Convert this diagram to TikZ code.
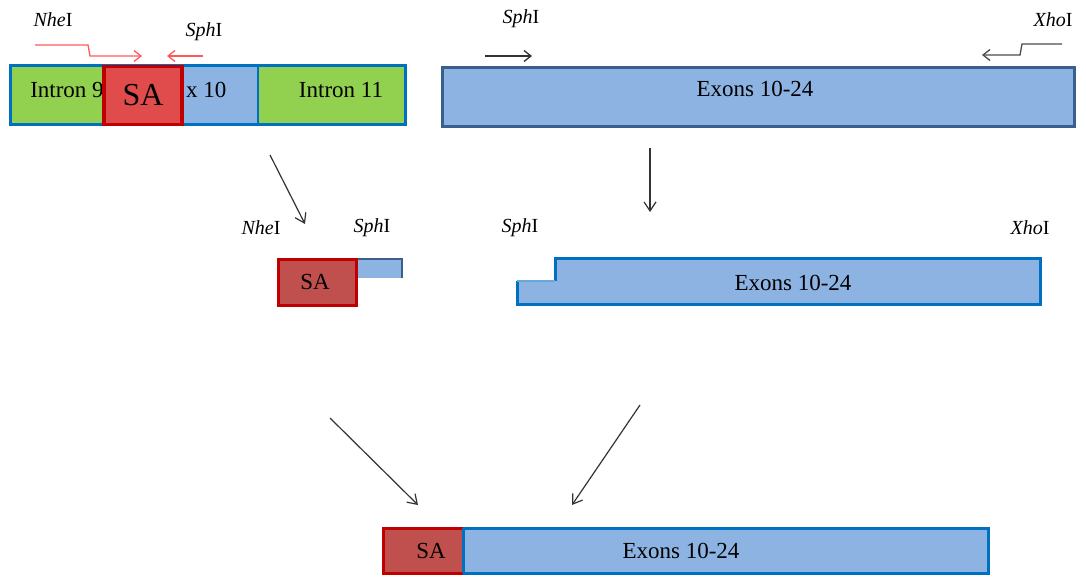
\documentclass[tikz,border=0pt]{standalone}
\usepackage{fontspec}
\setmainfont{Liberation Serif}
\usetikzlibrary{arrows.meta}
\definecolor{grn}{HTML}{92D050}
\definecolor{bfill}{HTML}{8DB3E2}
\definecolor{bedge}{HTML}{0070C0}
\definecolor{bdark}{HTML}{3A5F8F}
\definecolor{rfillA}{HTML}{E04C4C}
\definecolor{rfillB}{HTML}{C0504D}
\definecolor{redge}{HTML}{C00000}
\definecolor{pink}{HTML}{FF5A5A}
\tikzset{
  lbl/.style={font=\fontsize{20}{22}\selectfont, inner sep=0pt},
  txt/.style={font=\fontsize{23}{25}\selectfont, inner sep=0pt},
  flow/.style={-{Straight Barb[length=9pt,width=12pt]}, line width=1.2pt, black!80},
  primer/.style={-{Straight Barb[length=7pt,width=11pt]}, line width=1.3pt},
}
\begin{document}
\begin{tikzpicture}[x=1pt,y=-1pt]
\useasboundingbox (0,0) rectangle (1086,577);
% ---- top left construct
\fill[grn] (10,66) rectangle (183,125);
\fill[bfill] (183,66) rectangle (258,125);
\fill[grn] (258,66) rectangle (405,125);
\draw[bedge, line width=2pt] (258,66) -- (258,125);
\draw[bedge, line width=3pt] (10,66) rectangle (405,125);
\node[txt] (i9) at (67,90) {Intron 9};
\node[txt, anchor=west] (e10) at (186,90) {x 10};
\node[txt] (i11) at (341,90) {Intron 11};
\node[draw=redge, fill=rfillA, line width=3.5pt, minimum width=78pt, minimum height=58pt, inner sep=0pt, font=\fontsize{32}{34}\selectfont] (sa1) at (143,95.5) {SA};
% primers top left
\node[lbl] (nhe1) at (53,20) {\textit{Nhe}I};
\node[lbl] (sph1) at (204,32) {\textit{Sph}I};
\coordinate (p1s) at (35,45);
\coordinate (p1e) at (142,56);
\draw[primer, pink] (p1s) -- (88,45) -- (90,56) -- (p1e);
\coordinate (p2s) at (203,56);
\coordinate (p2e) at (167,56);
\draw[primer, pink] (p2s) -- (p2e);
% ---- top right construct
\node[draw=bdark, fill=bfill, line width=3pt, minimum width=632pt, minimum height=59pt, inner sep=0pt, anchor=north west] (ex1) at (441,66) {};
\node[txt] at (755,89) {Exons 10-24};
\node[lbl] (sph2) at (521,19) {\textit{Sph}I};
\node[lbl] (xho1) at (1053,20) {\textit{Xho}I};
\coordinate (p3s) at (485,56);
\coordinate (p3e) at (532,56);
\draw[primer, black!80] (p3s) -- (p3e);
\coordinate (p4s) at (1062,44);
\coordinate (p4e) at (982,55);
\draw[primer, black!70] (p4s) -- (1022,44) -- (1020,55) -- (p4e);
% ---- flow arrows
\coordinate (a1s) at (270,155); \coordinate (a1e) at (305,224);
\coordinate (a2s) at (650,148); \coordinate (a2e) at (650,212);
\draw[flow] (a1s) -- (a1e);
\draw[flow] (a2s) -- (a2e);
% ---- middle left
\node[lbl] (nhe2) at (261,228) {\textit{Nhe}I};
\node[lbl] (sph3) at (372,228) {\textit{Sph}I};
\draw[bdark, fill=bfill, line width=2.4pt] (355,278) -- (355,259) -- (402,259) -- (402,278);
\node[draw=redge, fill=rfillB, line width=3pt, minimum width=78pt, minimum height=46pt, inner sep=0pt, anchor=north west] (sa2) at (277,258) {};
\node[txt] at (315,282) {SA};
% ---- middle right
\node[lbl] (sph4) at (520,228) {\textit{Sph}I};
\node[lbl] (xho2) at (1030,228) {\textit{Xho}I};
\fill[bfill] (517,281) -- (555,281) -- (555,259) -- (1040,259) -- (1040,304) -- (517,304) -- cycle;
\draw[bedge, line width=3pt] (555,281) -- (555,259) -- (1040,259) -- (1040,304) -- (517,304) -- (517,281);
\draw[bedge!60, line width=1.5pt] (517,281) -- (555,281);
\node[txt] (ex2) at (793,283) {Exons 10-24};
% ---- flow arrows to bottom
\coordinate (a3s) at (330,418); \coordinate (a3e) at (418,505);
\coordinate (a4s) at (640,405); \coordinate (a4e) at (572,505);
\draw[flow] (a3s) -- (a3e);
\draw[flow] (a4s) -- (a4e);
% ---- bottom
\fill[rfillB] (383,528) rectangle (463,573);
\fill[bfill] (463,528) rectangle (988,573);
\draw[bedge, line width=3pt] (463,528) rectangle (988,573);
\draw[redge, line width=3pt] (463,528) -- (383,528) -- (383,573) -- (463,573);
\draw[bedge, line width=3pt] (463,528) -- (463,573);
\node[txt] (sa3) at (431,551) {SA};
\node[txt] (ex3) at (681,551) {Exons 10-24};
\end{tikzpicture}
\end{document}
